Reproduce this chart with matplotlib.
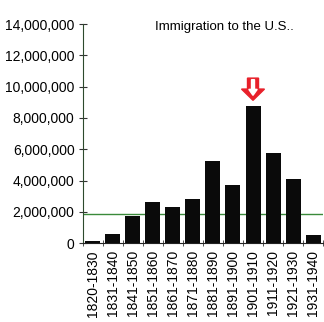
import matplotlib.pyplot as plt
from matplotlib.patches import FancyArrow
import numpy as np

# --- DATA ---
decades = ['1820-1830', '1831-1840', '1841-1850', '1851-1860', '1861-1870',
           '1871-1880', '1881-1890', '1891-1900', '1901-1910', '1911-1920',
           '1921-1930', '1931-1940']
immigrants = [151824, 599125, 1713251, 2598214, 2314824, 2812191,
              5246613, 3687564, 8795386, 5735811, 4107209, 528431]
ref_level = 1850000
peak_decade = '1901-1910'
y_ticks = [0, 2000000, 4000000, 6000000, 8000000, 10000000, 12000000, 14000000]

plt.rcParams['font.family'] = ['Liberation Sans', 'DejaVu Sans']

fig = plt.figure(figsize=(3.24, 3.22), dpi=100)
ax = fig.add_axes([0.256, 0.245, 0.741, 0.68])

x = np.arange(len(decades))
ax.bar(x, immigrants, width=0.75, color='#0a0a0a', zorder=3)
ax.axhline(ref_level, color='#3a8a3a', linewidth=1, zorder=2)

ax.set_xlim(-0.5, len(decades) - 0.5)
ax.set_ylim(0, 14000000)
ax.set_yticks(y_ticks)
ax.set_yticklabels([f'{v:,}' for v in y_ticks], fontsize=10)
ax.set_xticks(x)
ax.set_xticklabels(decades, rotation=90, fontsize=10)
ax.set_xticks(np.arange(len(decades) + 1) - 0.5, minor=True)
ax.tick_params(axis='x', which='major', length=0, pad=5)
ax.tick_params(axis='x', which='minor', length=5, direction='inout', color='#333333')
ax.tick_params(axis='y', length=6, direction='inout', color='#333333', pad=3)

for s in ['top', 'right']:
    ax.spines[s].set_visible(False)
ax.spines['left'].set_color('#2d4a2d')
ax.spines['bottom'].set_color('#222222')

# Title inside the plot
ax.text(0.59, 0.985, 'Immigration to the U.S..', transform=ax.transAxes,
        fontsize=9.5, ha='center', va='center')

# Red block arrow pointing at the peak decade
i = decades.index(peak_decade)
ax.add_patch(FancyArrow(i, 10550000, 0, -1420000, width=0.55, head_width=1.15,
                        head_length=720000, length_includes_head=True,
                        color='#e8202a', zorder=4, clip_on=False))
ax.add_patch(FancyArrow(i, 10450000, 0, -1000000, width=0.15, head_width=0.42,
                        head_length=380000, length_includes_head=True,
                        color='white', zorder=5, clip_on=False))

fig.savefig('out.png', dpi=100)
